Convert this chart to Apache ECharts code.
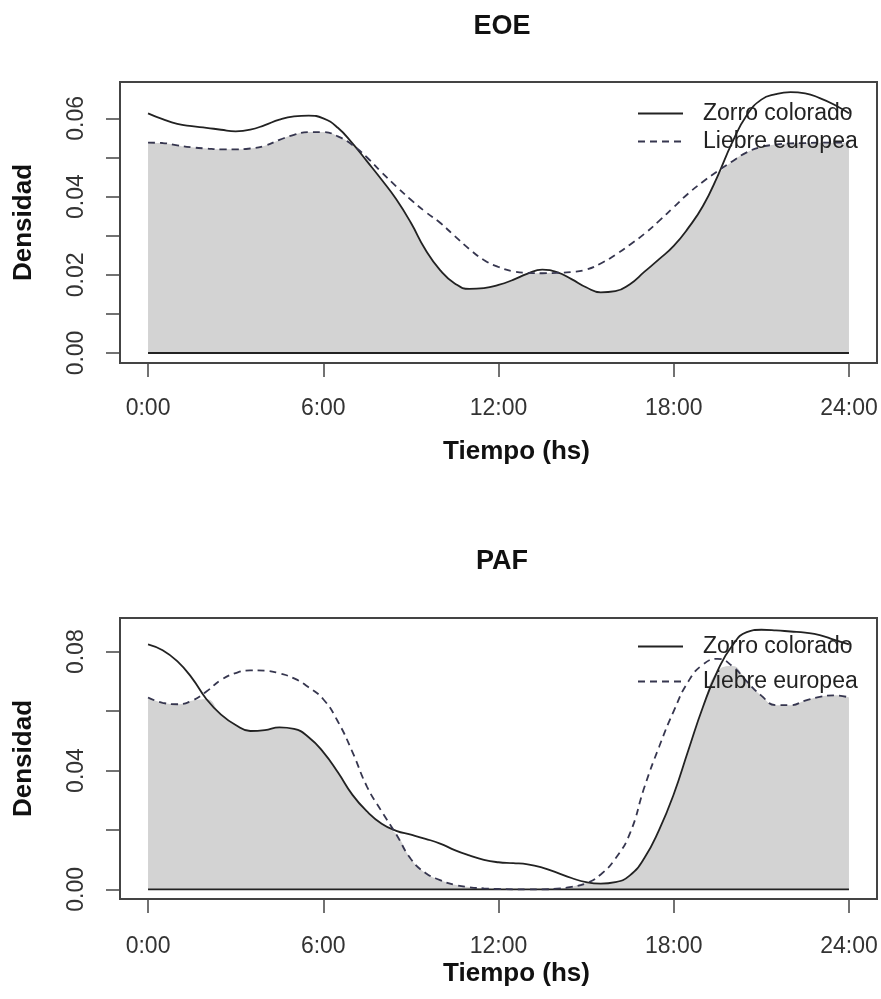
<!DOCTYPE html>
<html>
<head>
<meta charset="utf-8">
<script src="https://cdn.jsdelivr.net/npm/echarts@6/dist/echarts.min.js"></script>
<style>
  html, body { margin: 0; padding: 0; background: #fff; }
  #main { width: 881px; height: 999px; }
</style>
</head>
<body>
<div id="main"></div>
<script>
var myChart = echarts.init(document.getElementById('main'));

// hour of day, every half hour
var hours = [0, 0.5, 1, 1.5, 2, 2.5, 3, 3.5, 4, 4.5, 5, 5.5, 6, 6.5, 7, 7.5, 8, 8.5, 9, 9.5,
    10, 10.5, 11, 11.5, 12, 12.5, 13, 13.5, 14, 14.5, 15, 15.5, 16, 16.5, 17, 17.5, 18, 18.5,
    19, 19.5, 20, 20.5, 21, 21.5, 22, 22.5, 23, 23.5, 24];

// EOE
var eoeZorro = [0.0613, 0.0598, 0.0586, 0.0580, 0.0576, 0.0571, 0.0567, 0.0571, 0.0583, 0.0597,
    0.0605, 0.0607, 0.0600, 0.0576, 0.0536, 0.0490, 0.0443, 0.0393, 0.0333, 0.0264,
    0.0212, 0.0178, 0.0164, 0.0166, 0.0174, 0.0187, 0.0203, 0.0213, 0.0207, 0.0189,
    0.0168, 0.0155, 0.0158, 0.0176, 0.0208, 0.0240, 0.0274, 0.0320, 0.0376, 0.0452,
    0.0538, 0.0608, 0.0648, 0.0662, 0.0667, 0.0664, 0.0652, 0.0635, 0.0613];
var eoeLiebre = [0.0538, 0.0537, 0.0531, 0.0526, 0.0523, 0.0521, 0.0521, 0.0523, 0.0530, 0.0545,
    0.0558, 0.0565, 0.0565, 0.0554, 0.0532, 0.0500, 0.0462, 0.0426, 0.0392, 0.0361,
    0.0333, 0.0299, 0.0266, 0.0238, 0.0220, 0.0209, 0.0205, 0.0204, 0.0205, 0.0207,
    0.0213, 0.0229, 0.0251, 0.0277, 0.0305, 0.0338, 0.0373, 0.0408, 0.0438, 0.0465,
    0.0490, 0.0513, 0.0527, 0.0533, 0.0536, 0.0537, 0.0538, 0.0538, 0.0538];

// PAF
var pafZorro = [0.0825, 0.0805, 0.0768, 0.0712, 0.0640, 0.0588, 0.0553, 0.0533, 0.0536, 0.0545,
    0.0540, 0.0512, 0.0462, 0.0394, 0.0318, 0.0262, 0.0221, 0.0197, 0.0184, 0.0170,
    0.0154, 0.0132, 0.0114, 0.0099, 0.0091, 0.0088, 0.0084, 0.0073, 0.0056, 0.0038,
    0.0024, 0.0019, 0.0024, 0.0047, 0.0106, 0.0200, 0.0320, 0.0468, 0.0614, 0.0735,
    0.0820, 0.0866, 0.0874, 0.0872, 0.0868, 0.0864, 0.0856, 0.0840, 0.0825];
var pafLiebre = [0.0646, 0.0628, 0.0623, 0.0635, 0.0666, 0.0705, 0.0728, 0.0737, 0.0736, 0.0727,
    0.0710, 0.0680, 0.0640, 0.0565, 0.0462, 0.0345, 0.0262, 0.0185, 0.0102, 0.0055,
    0.0031, 0.0015, 0.0007, 0.0003, 0.0001, 0.0000, 0.0000, 0.0000, 0.0002, 0.0008,
    0.0020, 0.0050, 0.0103, 0.0188, 0.0345, 0.0480, 0.0600, 0.0700, 0.0757, 0.0776,
    0.0752, 0.0700, 0.0652, 0.0620, 0.0620, 0.0635, 0.0648, 0.0653, 0.0646];

var hourTicks = [0, 6, 12, 18, 24];
var eoeTicks = [0, 0.01, 0.02, 0.03, 0.04, 0.05, 0.06];
var eoeLabels = [0, 0.02, 0.04, 0.06];
var pafTicks = [0, 0.02, 0.04, 0.06, 0.08];
var pafLabels = [0, 0.04, 0.08];

var FONT = 'Liberation Sans, Arial, sans-serif';

var pairs = function (ys) {
    return hours.map(function (h, i) { return [h, ys[i]]; });
};
var overlap = function (a, b) {
    return hours.map(function (h, i) { return [h, Math.min(a[i], b[i])]; });
};

var xAxisFor = function (gi, labelMargin, nameGap) {
    return {
        type: 'value', gridIndex: gi, min: -0.96, max: 24.96,
        axisLine: { show: false, onZero: false },
        splitLine: { show: false },
        axisTick: { customValues: hourTicks, length: 14, lineStyle: { color: '#444', width: 1.5 } },
        axisLabel: {
            customValues: hourTicks, margin: labelMargin,
            fontFamily: FONT, fontSize: 23, color: '#333',
            formatter: function (v) { return v + ':00'; }
        },
        name: 'Tiempo (hs)', nameLocation: 'middle', nameGap: nameGap,
        nameTextStyle: { fontFamily: FONT, fontSize: 26, fontWeight: 'bold', color: '#111', padding: [0, 0, 0, 36] }
    };
};
var yAxisFor = function (gi, min, max, ticks, labels) {
    return {
        type: 'value', gridIndex: gi, min: min, max: max,
        axisLine: { show: false, onZero: false },
        splitLine: { show: false },
        axisTick: { customValues: ticks, length: 14, lineStyle: { color: '#444', width: 1.5 } },
        axisLabel: {
            customValues: labels, rotate: 90, margin: 32,
            fontFamily: FONT, fontSize: 23, color: '#333',
            formatter: function (v) { return v.toFixed(2); }
        },
        name: 'Densidad', nameLocation: 'middle', nameRotate: 90, nameGap: 83,
        nameTextStyle: { fontFamily: FONT, fontSize: 26, fontWeight: 'bold', color: '#111' }
    };
};

var panelSeries = function (gi, zorro, liebre) {
    return [
        {
            name: 'solapamiento', type: 'line', xAxisIndex: gi, yAxisIndex: gi,
            data: overlap(zorro, liebre), smooth: true, symbol: 'none', silent: true,
            lineStyle: { width: 0 }, areaStyle: { color: '#d3d3d3', opacity: 1 }, z: 1
        },
        {
            name: 'base', type: 'line', xAxisIndex: gi, yAxisIndex: gi,
            data: hours.map(function (h) { return [h, 0]; }), symbol: 'none', silent: true,
            lineStyle: { color: '#222', width: 1.8 }, z: 2
        },
        {
            name: 'Zorro colorado', type: 'line', xAxisIndex: gi, yAxisIndex: gi,
            data: pairs(zorro), smooth: true, symbol: 'none',
            itemStyle: { color: '#222' },
            lineStyle: { color: '#222', width: 1.8, type: 'solid' }, z: 3
        },
        {
            name: 'Liebre europea', type: 'line', xAxisIndex: gi, yAxisIndex: gi,
            data: pairs(liebre), smooth: true, symbol: 'none',
            itemStyle: { color: '#36364f' },
            lineStyle: { color: '#36364f', width: 1.8, type: [7, 5] }, z: 3
        }
    ];
};

var legendFor = function (top, gap) {
    return {
        orient: 'vertical', left: 637, top: top, itemGap: gap, padding: 0,
        itemWidth: 45, itemHeight: 14,
        data: ['Zorro colorado', 'Liebre europea'],
        itemStyle: { opacity: 0 },
        textStyle: { fontFamily: FONT, fontSize: 23, color: '#222', padding: [0, 0, 0, 15] },
        selectedMode: false
    };
};

option = {
    backgroundColor: '#fff',
    animation: false,
    title: [
        { text: 'EOE', left: 497, top: 8, textAlign: 'center',
          textStyle: { fontFamily: FONT, fontSize: 27, fontWeight: 'bold', color: '#111' } },
        { text: 'PAF', left: 497, top: 543, textAlign: 'center',
          textStyle: { fontFamily: FONT, fontSize: 27, fontWeight: 'bold', color: '#111' } }
    ],
    legend: [legendFor(102, 5), legendFor(635, 12)],
    grid: [
        { left: 120, top: 82, width: 757, height: 281, show: true, borderColor: '#444', borderWidth: 2 },
        { left: 120, top: 618, width: 757, height: 281, show: true, borderColor: '#444', borderWidth: 2 }
    ],
    xAxis: [xAxisFor(0, 34, 76), xAxisFor(1, 36, 62)],
    yAxis: [
        yAxisFor(0, -0.00256, 0.06931, eoeTicks, eoeLabels),
        yAxisFor(1, -0.00327, 0.09135, pafTicks, pafLabels)
    ],
    series: panelSeries(0, eoeZorro, eoeLiebre).concat(panelSeries(1, pafZorro, pafLiebre))
};

myChart.setOption(option);
</script>
</body>
</html>
